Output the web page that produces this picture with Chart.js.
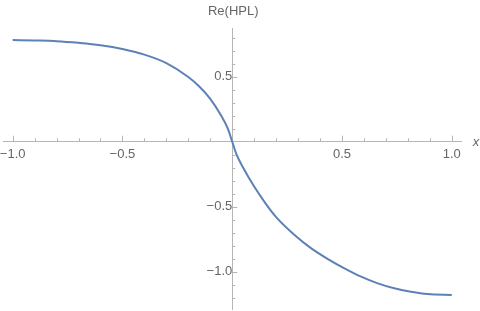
<!DOCTYPE html>
<html lang="en">
<head>
    <meta charset="UTF-8">
    <title>Re(HPL)</title>
    <script src="https://cdn.jsdelivr.net/npm/chart.js"></script>
    <style>
        html, body { margin: 0; padding: 0; background: #fff; }
        #wrap { width: 480px; height: 311px; }
    </style>
</head>
<body>
    <div id="wrap"><canvas id="hplChart"></canvas></div>

    <script>
        // curve samples
        const xValues = [-1.0, -0.9, -0.8, -0.7, -0.6, -0.5, -0.4, -0.3, -0.2, -0.15, -0.1, -0.05, -0.02, 0,
                         0.02, 0.05, 0.1, 0.15, 0.2, 0.284, 0.36, 0.436, 0.511, 0.587, 0.663, 0.738, 0.814, 0.89, 1.0];
        const yValues = [0.782, 0.779, 0.774, 0.761, 0.743, 0.714, 0.670, 0.605, 0.498, 0.425, 0.33, 0.2, 0.1, 0,
                         -0.1, -0.2, -0.345, -0.47, -0.58, -0.718, -0.821, -0.903, -0.974, -1.038, -1.09, -1.128, -1.154, -1.172, -1.179];

        // tick marks and which ones carry labels
        const xTicks = [-1.0, -0.9, -0.8, -0.7, -0.6, -0.5, -0.4, -0.3, -0.2, -0.1, 0.1, 0.2, 0.3, 0.4, 0.5, 0.6, 0.7, 0.8, 0.9, 1.0];
        const yTicks = [-1.2, -1.1, -1.0, -0.9, -0.8, -0.7, -0.6, -0.5, -0.4, -0.3, -0.2, -0.1, 0.1, 0.2, 0.3, 0.4, 0.5, 0.6, 0.7, 0.8];
        const labelledTicks = [-1.0, -0.5, 0.5, 1.0];

        const axisGray = '#b5b5b5';
        const textGray = '#666666';
        const fontFamily = "'Liberation Sans', Arial, sans-serif";

        const isMajor = v => labelledTicks.some(m => Math.abs(m - v) < 1e-6);
        const fmt = v => isMajor(v) ? (v < 0 ? '\u2212' : '') + Math.abs(v).toFixed(1) : '';

        // axes sit inside the plot, so they must not take any room of their own
        const noRoom = axis => {
            axis.width = axis.isHorizontal() ? axis.width : 0;
            axis.height = axis.isHorizontal() ? 0 : axis.height;
            axis.paddingLeft = axis.paddingRight = axis.paddingTop = axis.paddingBottom = 0;
        };

        // Mathematica style ticks: x ticks point up, y ticks point right
        const tickMarks = {
            id: 'tickMarks',
            beforeDatasetsDraw(chart) {
                const ctx = chart.ctx;
                const xs = chart.scales.x, ys = chart.scales.y;
                const y0 = ys.getPixelForValue(0), x0 = xs.getPixelForValue(0);
                ctx.save();
                ctx.strokeStyle = axisGray;
                ctx.lineWidth = 1;
                ctx.beginPath();
                xTicks.forEach(v => {
                    const px = Math.round(xs.getPixelForValue(v)) + 0.5;
                    ctx.moveTo(px, y0);
                    ctx.lineTo(px, y0 - (isMajor(v) ? 6 : 3.5));
                });
                yTicks.forEach(v => {
                    const py = Math.round(ys.getPixelForValue(v)) + 0.5;
                    ctx.moveTo(x0, py);
                    ctx.lineTo(x0 + (isMajor(v) ? 5 : 3), py);
                });
                ctx.stroke();

                // axis titles
                ctx.fillStyle = textGray;
                ctx.font = '13px ' + fontFamily;
                ctx.textAlign = 'center';
                ctx.textBaseline = 'middle';
                ctx.fillText('Re(HPL)', x0 + 1, 11);
                ctx.font = 'italic 13px ' + fontFamily;
                ctx.fillText('x', 476, y0 + 1);
                ctx.restore();
            }
        };

        const points = xValues.map((x, i) => ({ x: x, y: yValues[i] }));

        new Chart(document.getElementById('hplChart'), {
            type: 'line',
            data: {
                datasets: [{
                    data: points,
                    borderColor: '#5e81b5',
                    borderWidth: 2,
                    pointRadius: 0,
                    fill: false,
                    cubicInterpolationMode: 'monotone'
                }]
            },
            options: {
                responsive: true,
                maintainAspectRatio: false,
                animation: false,
                layout: { padding: { left: 3, right: 19, top: 28, bottom: 2 } },
                plugins: { legend: { display: false }, tooltip: { enabled: false } },
                scales: {
                    x: {
                        type: 'linear',
                        min: -1.044,
                        max: 1.042,
                        position: { y: 0 },
                        afterBuildTicks: axis => { axis.ticks = xTicks.map(v => ({ value: v })); },
                        afterFit: noRoom,
                        grid: { display: false, drawTicks: false },
                        border: { display: true, color: axisGray, width: 1 },
                        ticks: {
                            autoSkip: false,
                            maxRotation: 0,
                            padding: 5,
                            color: textGray,
                            font: { family: fontFamily, size: 13 },
                            callback: v => fmt(v)
                        }
                    },
                    y: {
                        type: 'linear',
                        min: -1.287,
                        max: 0.875,
                        position: { x: 0 },
                        afterBuildTicks: axis => { axis.ticks = yTicks.map(v => ({ value: v })); },
                        afterFit: noRoom,
                        grid: { display: false, drawTicks: false },
                        border: { display: true, color: axisGray, width: 1 },
                        ticks: {
                            autoSkip: false,
                            padding: 3,
                            color: textGray,
                            font: { family: fontFamily, size: 13 },
                            callback: v => fmt(v)
                        }
                    }
                }
            },
            plugins: [tickMarks]
        });
    </script>
</body>
</html>
